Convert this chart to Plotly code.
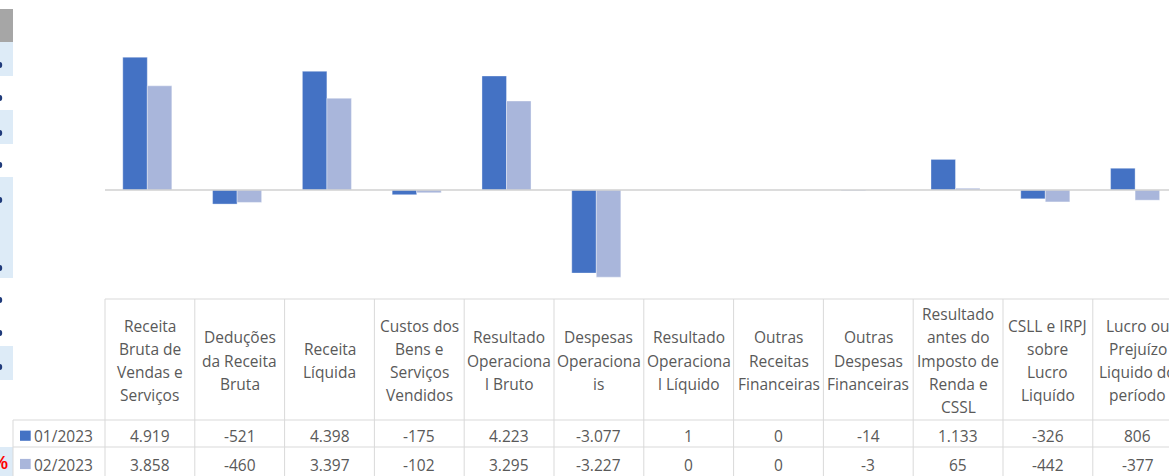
import plotly.graph_objects as go

# ---------------- data ----------------
categories = [
    "Receita<br>Bruta de<br>Vendas e<br>Serviços",
    "Deduções<br>da Receita<br>Bruta",
    "Receita<br>Líquida",
    "Custos dos<br>Bens e<br>Serviços<br>Vendidos",
    "Resultado<br>Operaciona<br>l Bruto",
    "Despesas<br>Operaciona<br>is",
    "Resultado<br>Operaciona<br>l Líquido",
    "Outras<br>Receitas<br>Financeiras",
    "Outras<br>Despesas<br>Financeiras",
    "Resultado<br>antes do<br>Imposto de<br>Renda e<br>CSSL",
    "CSLL e IRPJ<br>sobre<br>Lucro<br>Liquído",
    "Lucro ou<br>Prejuízo<br>Liquido do<br>período",
]
series_names = ["01/2023", "02/2023"]
values_jan = [4919, -521, 4398, -175, 4223, -3077, 1, 0, -14, 1133, -326, 806]
values_feb = [3858, -460, 3397, -102, 3295, -3227, 0, 0, -3, 65, -442, -377]
series_values = [values_jan, values_feb]
series_colors = ["#4472C4", "#A9B6DB"]

# ---------------- layout constants (pixels) ----------------
W, H = 1169, 476
col_w = 89.8
table_x0 = 105.0
leg_x0 = 13.0
bar_center0 = 147.3
y_hdr_top, y_row1, y_row2 = 299.0, 420.0, 447.0
grid = "#D9D9D9"
txt = "#595959"
FONT = "Open Sans"
FS = 15.5


def px(x):
    return x / W


def py(y):
    return 1 - y / H


def fmt(v):
    return f"{v:,}".replace(",", ".")


fig = go.Figure()
n = len(categories)
idx = list(range(n))
for name, vals, col in zip(series_names, series_values, series_colors):
    fig.add_trace(go.Bar(
        x=idx, y=vals, name=name,
        marker=dict(color=col, line=dict(color="rgba(255,255,255,0.6)", width=0.6)),
        showlegend=False, hoverinfo="y",
    ))

x_lo = -bar_center0 / col_w
x_hi = x_lo + W / col_w

shapes = []
annotations = []

# zero line
shapes.append(dict(type="line", xref="paper", yref="y", x0=px(table_x0), x1=1, y0=0, y1=0,
                   line=dict(color="#D0D0D0", width=1.5), layer="above"))

# table grid
L = dict(color=grid, width=1)
shapes.append(dict(type="line", xref="paper", yref="paper", x0=px(table_x0), x1=1,
                   y0=py(y_hdr_top), y1=py(y_hdr_top), line=L))
for yy in (y_row1, y_row2):
    shapes.append(dict(type="line", xref="paper", yref="paper", x0=px(leg_x0), x1=1,
                       y0=py(yy), y1=py(yy), line=L))
shapes.append(dict(type="line", xref="paper", yref="paper", x0=px(leg_x0), x1=px(leg_x0),
                   y0=py(y_row1), y1=0, line=L))
for k in range(n + 1):
    xx = table_x0 + k * col_w
    if xx > W + 1:
        break
    shapes.append(dict(type="line", xref="paper", yref="paper", x0=px(xx), x1=px(xx),
                       y0=py(y_hdr_top), y1=0, line=L))

# header text (line by line)
line_gap = 23.3
hdr_center = 360.5
for i, cat in enumerate(categories):
    lines = cat.split("<br>")
    cx = table_x0 + (i + 0.5) * col_w
    m = len(lines)
    for j, ln in enumerate(lines):
        yy = hdr_center + (j - (m - 1) / 2) * line_gap
        annotations.append(dict(xref="paper", yref="paper", x=px(cx), y=py(yy), text=ln,
                                showarrow=False, xanchor="center", yanchor="middle",
                                font=dict(family=FONT, size=FS, color=txt)))

# values rows
row_text_y = [435.5, 465.0]
row_key_y = [435.7, 464.0]
for r, (name, vals, col) in enumerate(zip(series_names, series_values, series_colors)):
    cy = row_text_y[r]
    for i, v in enumerate(vals):
        cx = table_x0 + (i + 0.5) * col_w
        annotations.append(dict(xref="paper", yref="paper", x=px(cx), y=py(cy), text=fmt(v),
                                showarrow=False, xanchor="center", yanchor="middle",
                                font=dict(family=FONT, size=FS, color=txt)))
    ky = row_key_y[r]
    shapes.append(dict(type="rect", xref="paper", yref="paper", x0=px(20), x1=px(30.7),
                       y0=py(ky + 5.1), y1=py(ky - 5.1), fillcolor=col, line=dict(width=0)))
    annotations.append(dict(xref="paper", yref="paper", x=px(32), y=py(cy), text=name,
                            showarrow=False, xanchor="left", yanchor="middle",
                            font=dict(family=FONT, size=FS, color=txt)))

# cropped spreadsheet strip on the left
shapes.append(dict(type="rect", xref="paper", yref="paper", x0=0, x1=px(13), y0=py(42), y1=py(9),
                   fillcolor="#A6A6A6", line=dict(width=0), layer="below"))
for (a, b) in [(42, 76), (110, 144), (177, 278), (346, 380), (447, 476)]:
    shapes.append(dict(type="rect", xref="paper", yref="paper", x0=0, x1=px(13), y0=py(b), y1=py(a),
                       fillcolor="#DDEBF7", line=dict(width=0), layer="below"))
for d in [65, 98, 133, 165, 200, 268, 300, 333, 367]:
    shapes.append(dict(type="circle", xref="paper", yref="paper", x0=px(-2.5), x1=px(2.2),
                       y0=py(d + 3), y1=py(d - 3), fillcolor="#1F3A7A", line=dict(width=0)))
annotations.append(dict(xref="paper", yref="paper", x=px(9.5), y=py(463), text="<b>%</b>",
                        showarrow=False, xanchor="right", yanchor="middle",
                        font=dict(family="Liberation Sans", size=18, color="#FF0000")))

fig.update_layout(
    width=W, height=H,
    margin=dict(l=0, r=0, t=0, b=0),
    paper_bgcolor="white", plot_bgcolor="rgba(0,0,0,0)",
    barmode="group", bargap=0.454, bargroupgap=0,
    xaxis=dict(range=[x_lo, x_hi], visible=False, domain=[0, 1], fixedrange=True),
    yaxis=dict(range=[-4000, 6000], visible=False, domain=[py(298), py(28)], zeroline=False,
               showgrid=False, fixedrange=True),
    shapes=shapes, annotations=annotations,
)

fig.write_html(
    "out.html",
    config={"displayModeBar": False},
    post_script="document.body.style.margin='0';document.body.style.overflow='hidden';",
)
